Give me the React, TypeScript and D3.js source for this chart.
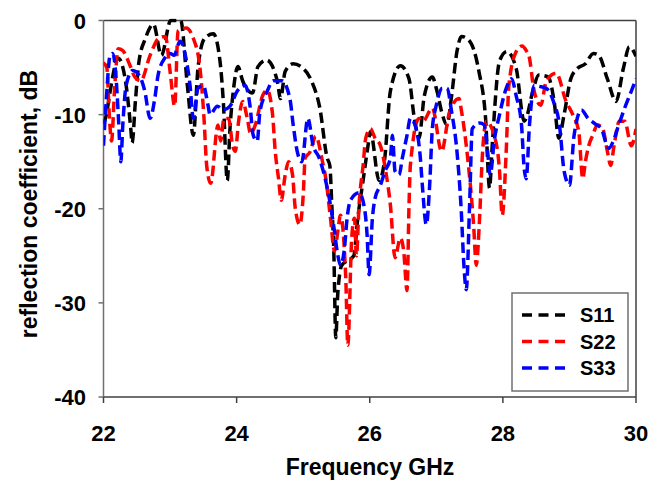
import React from "react";
import * as d3 from "d3";

const s11Freq = [22.0, 22.04, 22.1, 22.22, 22.33, 22.41, 22.43, 22.48, 22.53, 22.63, 22.75, 22.87, 23.01, 23.16, 23.26, 23.35, 23.42, 23.52, 23.65, 23.75, 23.8, 23.86, 23.9, 23.95, 24.02, 24.09, 24.24, 24.32, 24.45, 24.61, 24.66, 24.73, 24.85, 25.0, 25.13, 25.25, 25.36, 25.4, 25.43, 25.46, 25.49, 25.52, 25.58, 25.67, 25.76, 25.82, 25.9, 25.97, 26.01, 26.14, 26.22, 26.31, 26.46, 26.59, 26.67, 26.74, 26.82, 26.94, 27.01, 27.08, 27.16, 27.23, 27.31, 27.38, 27.49, 27.64, 27.74, 27.8, 27.84, 27.95, 28.06, 28.2, 28.32, 28.35, 28.45, 28.54, 28.68, 28.77, 28.84, 28.92, 29.02, 29.12, 29.24, 29.36, 29.44, 29.57, 29.7, 29.81, 29.9, 30.0];
const s11Db = [-11, -10.1, -7.5, -4.0, -6.4, -11.5, -13, -8.5, -4.5, -1.9, -0.4, -3.7, 0, 0, -6.9, -12.2, -5, -1.9, -1.4, -4.3, -8.6, -17, -11.5, -7.5, -4.9, -6.4, -7.7, -4.9, -4.2, -6.4, -8.3, -5.4, -4.6, -5.1, -6.5, -9.3, -14.6, -15.4, -19.6, -24.5, -33.7, -29, -26, -25.5, -25, -21, -17, -13.5, -11.8, -17, -15, -7.5, -4.8, -6.2, -10.4, -12.5, -8, -6, -7.5, -9.7, -11.1, -8, -3.3, -1.7, -2.1, -5.4, -10.4, -17.8, -13.3, -4.3, -3.3, -5.1, -10.7, -10.4, -7.5, -5.8, -6, -8.6, -12.5, -10, -6.2, -5.1, -4.6, -3.5, -3.7, -6.2, -8.6, -5.1, -2.8, -3.8];

const s22Freq = [22.0, 22.05, 22.09, 22.12, 22.17, 22.22, 22.29, 22.4, 22.47, 22.56, 22.7, 22.83, 22.93, 23.0, 23.07, 23.12, 23.24, 23.35, 23.45, 23.51, 23.55, 23.61, 23.72, 23.76, 23.81, 23.88, 23.94, 23.98, 24.03, 24.09, 24.16, 24.21, 24.28, 24.39, 24.46, 24.54, 24.58, 24.63, 24.67, 24.73, 24.78, 24.84, 24.88, 24.95, 25.0, 25.03, 25.1, 25.19, 25.29, 25.34, 25.41, 25.47, 25.52, 25.56, 25.64, 25.67, 25.73, 25.77, 25.8, 25.84, 25.9, 25.94, 26.01, 26.08, 26.16, 26.24, 26.31, 26.38, 26.46, 26.51, 26.56, 26.59, 26.61, 26.74, 26.8, 26.94, 27.08, 27.19, 27.34, 27.38, 27.46, 27.56, 27.6, 27.65, 27.69, 27.75, 27.87, 27.95, 27.99, 28.05, 28.09, 28.2, 28.29, 28.36, 28.39, 28.47, 28.57, 28.65, 28.8, 28.95, 29.05, 29.14, 29.2, 29.24, 29.29, 29.35, 29.42, 29.5, 29.57, 29.62, 29.67, 29.75, 29.83, 29.93, 30.0];
const s22Db = [-4.5, -5, -10.4, -12.8, -6.9, -3, -3.2, -4.8, -6, -6.4, -3.7, -1.9, -1.7, -5.4, -9.1, -1.1, -0.8, -1.9, -5.1, -10.4, -15.4, -17.3, -11.1, -12.8, -10.4, -10.4, -13.3, -13.9, -10.7, -8.6, -10.4, -12, -11.1, -8, -7.4, -10, -13.9, -16.8, -19.1, -16.4, -15, -16.4, -19.9, -21.7, -18.6, -14.6, -14, -12.3, -15, -16.8, -21, -24.5, -22.4, -20.7, -27.4, -34.5, -23, -21, -25, -19.5, -15.4, -12.5, -11.5, -12.5, -13.3, -16, -19.6, -25.2, -23.1, -24.5, -28.7, -19.6, -15.4, -10.4, -10.7, -9.3, -13.9, -10, -8.3, -9.7, -13.9, -21.7, -26, -21, -14.6, -10.7, -12.2, -16, -20.7, -13.9, -6.9, -3.3, -2.7, -3.3, -3.7, -7.5, -9, -6.5, -5.6, -8.6, -10, -11.8, -16.8, -15, -13.3, -12.2, -11.1, -11.5, -13.9, -15.4, -13.3, -10.7, -10.7, -13.3, -11.5];

const s33Freq = [22.0, 22.04, 22.1, 22.14, 22.19, 22.23, 22.26, 22.29, 22.34, 22.44, 22.55, 22.62, 22.7, 22.77, 22.82, 22.92, 23.0, 23.06, 23.15, 23.23, 23.3, 23.35, 23.42, 23.5, 23.57, 23.6, 23.71, 23.8, 23.9, 24.01, 24.13, 24.2, 24.25, 24.31, 24.35, 24.46, 24.55, 24.68, 24.8, 24.85, 24.91, 24.98, 25.07, 25.15, 25.24, 25.33, 25.41, 25.47, 25.51, 25.56, 25.62, 25.66, 25.71, 25.84, 25.92, 25.96, 25.99, 26.04, 26.08, 26.16, 26.23, 26.31, 26.34, 26.38, 26.44, 26.49, 26.56, 26.61, 26.68, 26.76, 26.79, 26.85, 26.9, 26.94, 27.0, 27.09, 27.16, 27.23, 27.31, 27.37, 27.42, 27.45, 27.5, 27.54, 27.65, 27.72, 27.77, 27.81, 27.87, 27.95, 28.05, 28.13, 28.2, 28.28, 28.32, 28.35, 28.4, 28.47, 28.55, 28.65, 28.76, 28.85, 28.92, 29.0, 29.07, 29.18, 29.28, 29.39, 29.48, 29.59, 29.66, 29.74, 29.83, 29.93, 30.0];
const s33Db = [-13.3, -8.6, -3.7, -3.5, -6.2, -11.1, -15, -11.1, -6.9, -5.3, -6, -7.5, -10.4, -8.3, -5.8, -4, -3.5, -3.7, -2.2, -3.7, -6.9, -10.4, -7.2, -6.9, -9, -10, -9.1, -9.5, -9.1, -7.5, -6.9, -9, -12.2, -12.8, -9.7, -7.5, -6.4, -6.4, -8.3, -11.1, -13.9, -15, -10.4, -13.3, -14.6, -16.8, -19.6, -22.4, -24.5, -26, -24.2, -21, -19.1, -18.3, -19.9, -22.8, -27, -21, -18.9, -17.5, -16, -14.6, -12.2, -16, -16.4, -14.6, -12.2, -10.4, -11.1, -14.6, -17.5, -21.7, -17.5, -11.5, -9, -7.2, -7.2, -9.7, -13.9, -19.6, -26.6, -28.6, -19.6, -11.5, -10.9, -11.1, -13.9, -16.4, -12.8, -10, -7.2, -6.2, -8, -11.1, -15.7, -16.8, -11.1, -6.9, -7, -7.2, -8.6, -11.1, -16, -17.5, -12.2, -9.5, -10.4, -11, -11.5, -13.6, -12.8, -11.1, -9.3, -7.5, -6.2];

const xTicks = [22, 24, 26, 28, 30];
const yTicks = [0, -10, -20, -30, -40];
const seriesNames = ["S11", "S22", "S33"];
const seriesColors = ["#000000", "#ff0000", "#0000ff"];

const W = 664;
const H = 485;
const L = 103.5;
const R = 636;
const T = 20.5;
const B = 397;
const FONT = "'Liberation Sans', Arial, Helvetica, sans-serif";

export default function App() {
  const x = d3.scaleLinear().domain([22, 30]).range([L, R]);
  const y = d3.scaleLinear().domain([-40, 0]).range([B, T]);
  const line = d3
    .line<[number, number]>()
    .x((d) => x(d[0]))
    .y((d) => y(d[1]))
    .curve(d3.curveMonotoneX);

  const series = [
    d3.zip(s11Freq, s11Db) as [number, number][],
    d3.zip(s22Freq, s22Db) as [number, number][],
    d3.zip(s33Freq, s33Db) as [number, number][],
  ];

  const axisColor = "#404040";
  const legX = 512;
  const legY = 293;
  const legW = 116;
  const legH = 98;

  return (
    <svg
      width={W}
      height={H}
      style={{ position: "absolute", left: 0, top: 0, background: "#fff" }}
      fontFamily={FONT}
    >
      <defs>
        <clipPath id="plotclip">
          <rect x={L} y={T - 2} width={R - L} height={B - T + 2} />
        </clipPath>
      </defs>
      <rect x={0} y={0} width={W} height={H} fill="#fff" />
      <line x1={L} y1={T} x2={R} y2={T} stroke={axisColor} strokeWidth={1.5} />
      <line x1={R} y1={T} x2={R} y2={B} stroke={axisColor} strokeWidth={1.5} />
      <line x1={L} y1={T} x2={L} y2={B} stroke="#707070" strokeWidth={1.5} />
      <line x1={L} y1={B} x2={R} y2={B} stroke={axisColor} strokeWidth={1.5} />
      {yTicks.map((t) => (
        <g key={"y" + t}>
          <line x1={L - 5} x2={L} y1={y(t)} y2={y(t)} stroke="#707070" strokeWidth={1.5} />
          <text x={86} y={y(t) + 8} textAnchor="end" fontSize={22} fontWeight="bold" fill="#000">
            {t}
          </text>
        </g>
      ))}
      {xTicks.map((t) => (
        <g key={"x" + t}>
          <line x1={x(t)} x2={x(t)} y1={B} y2={B + 6} stroke={axisColor} strokeWidth={1.5} />
          <text x={x(t)} y={441} textAnchor="middle" fontSize={22} fontWeight="bold" fill="#000">
            {t}
          </text>
        </g>
      ))}
      <text x={370} y={475} textAnchor="middle" fontSize={23} fontWeight="bold" fill="#000">
        Frequency GHz
      </text>
      <text
        transform={`translate(37,${204}) rotate(-90)`}
        textAnchor="middle"
        fontSize={23}
        fontWeight="bold"
        fill="#000"
      >
        reflection coefficient, dB
      </text>
      <g clipPath="url(#plotclip)">
        {series.map((s, i) => (
          <path
            key={seriesNames[i]}
            d={line(s) || ""}
            fill="none"
            stroke={seriesColors[i]}
            strokeWidth={3.5}
            strokeDasharray="10.5 5"
          />
        ))}
      </g>
      <rect x={legX} y={legY} width={legW} height={legH} fill="#fff" stroke="#707070" strokeWidth={1.5} />
      {seriesNames.map((n, i) => {
        const cy = 315 + i * 26.5;
        return (
          <g key={"leg" + n}>
            <line
              x1={522}
              x2={565}
              y1={cy}
              y2={cy}
              stroke={seriesColors[i]}
              strokeWidth={3.5}
              strokeDasharray="10 6.5"
            />
            <text x={580} y={cy + 7} fontSize={20} fontWeight="bold" fill="#000">
              {n}
            </text>
          </g>
        );
      })}
    </svg>
  );
}
